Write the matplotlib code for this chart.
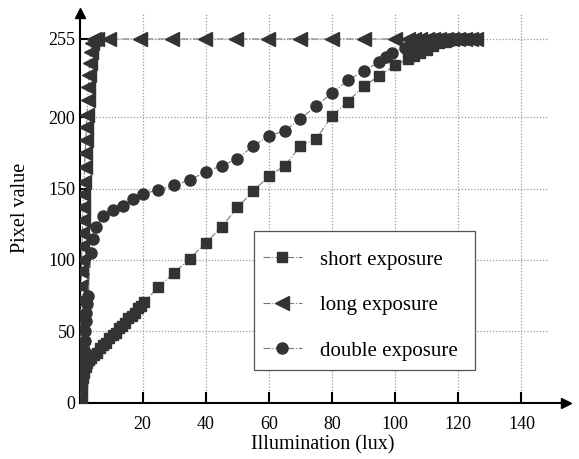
import matplotlib
matplotlib.use("Agg")
import matplotlib.pyplot as plt
from matplotlib.patches import Rectangle

plt.rcParams['font.family'] = ['Liberation Serif', 'DejaVu Serif']

# ---------------- data ----------------
short_x = [0.2, 0.5, 0.8, 1.1, 1.5, 2.0, 2.5, 3.0, 3.6, 4.5, 5.5, 6.5, 7.5, 8.5, 9.5,
           10.5, 11.5, 12.5, 13.5, 14.5, 15.5, 16.5, 17.5, 18.5, 19.5, 20.5,
           25, 30, 35, 40, 45, 50, 55, 60, 65, 70, 75, 80, 85, 90, 95, 100,
           104, 106, 108, 110, 112, 114, 116, 118, 120, 122, 124, 125.5]
short_y = [3, 8, 13, 17, 21, 25, 28, 30, 31, 33, 35, 38, 40, 42, 45,
           47, 49, 52, 54, 56, 59, 61, 63, 66, 68, 70.5,
           81, 91, 101, 112, 123, 137, 148, 159, 166, 180, 185, 201, 211, 222, 229, 236.5,
           241, 243, 245, 247, 250, 252, 253, 254, 255, 255, 255, 255]

long_x = [0.05, 0.1, 0.15, 0.2, 0.3, 0.35, 0.4, 0.5, 0.55, 0.6, 0.7, 0.8, 0.9, 1.0,
          1.1, 1.2, 1.4, 1.6, 1.8, 2.0, 2.2, 2.4, 2.6, 2.8, 3.0, 3.2, 3.5, 3.9, 4.5, 5.5,
          9.3, 19.3, 29.3, 39.6, 49.7, 59.8, 69.9, 80, 90.2, 100,
          104, 106, 108, 110, 112, 114, 116, 118, 120, 122, 124, 125.5]
long_y = [3, 12, 22, 32, 42, 52, 62, 72, 82, 92, 100, 110, 119, 128,
          137, 146, 155, 165, 175, 184, 193, 202, 212, 221, 230, 238, 246, 252, 255, 255,
          255, 255, 255, 255, 255, 255, 255, 255, 255, 255,
          255, 255, 255, 255, 255, 255, 255, 255, 255, 255, 255, 255]

double_x = [0.8, 1.0, 1.2, 1.4, 1.6, 1.8, 2.0, 2.2, 2.4, 2.6,
            3.7, 4.2, 5.3, 7.4, 10.6, 13.7, 16.9, 20.1,
            25, 30, 35, 40, 45, 50, 55, 60, 65, 70, 75, 80, 85, 90, 95, 97, 99,
            103, 105, 107, 109, 111, 113, 115, 117, 119, 121, 123, 125.5]
double_y = [20, 25, 31, 37, 43, 50, 57, 63, 69, 75,
            105, 115, 123, 131, 135, 138, 143, 146.5,
            149, 152.5, 156, 162, 166, 171, 180, 187, 190.5, 199, 208, 217, 226, 232.5, 239, 242.5, 245,
            249, 251, 252, 253, 254, 255, 255, 255, 255, 255, 255, 255]

x_ticks = [20, 40, 60, 80, 100, 120, 140]
y_ticks = [0, 50, 100, 150, 200, 255]
labels = ["short exposure", "long exposure", "double exposure"]

# ---------------- figure ----------------
W, H = 579, 459
fig = plt.figure(figsize=(W / 100, H / 100), dpi=100)
x0, x1 = 79.5, 566.0
y0, y1 = 402.5, 13.0
ax = fig.add_axes([x0 / W, (H - y0) / H, (x1 - x0) / W, (y0 - y1) / H])
ax.set_xlim(0, 154.1)
ax.set_ylim(0, 273.2)

# grid
for gx in x_ticks:
    ax.axvline(gx, color='#9a9a9a', lw=0.9, ls=(0, (1, 1.5)), zorder=0)
for gy in y_ticks[1:]:
    ax.axhline(gy, xmin=0, xmax=148 / 154.1, color='#9a9a9a', lw=0.9, ls=(0, (1, 1.5)), zorder=0)

mc = '#333333'
lc = '#7a7a7a'
common = dict(color=lc, lw=0.8, ls='-.', markerfacecolor=mc, markeredgecolor=mc, zorder=3)
ax.plot(short_x, short_y, marker='s', ms=7.5, label=labels[0], **common)
ax.plot(long_x, long_y, marker='<', ms=9.5, label=labels[1], **common)
ax.plot(double_x, double_y, marker='o', ms=8, label=labels[2], **common)

# spines & arrows
for s in ['top', 'right']:
    ax.spines[s].set_visible(False)
for s in ['left', 'bottom']:
    ax.spines[s].set_linewidth(1.5)
    ax.spines[s].set_color('black')
ax.plot(1, 0, marker='>', ms=7, color='black', transform=ax.transAxes, clip_on=False, zorder=5)
ax.plot(0, 1, marker='^', ms=7, color='black', transform=ax.transAxes, clip_on=False, zorder=5)

ax.set_xticks(x_ticks)
ax.set_yticks(y_ticks)
ax.tick_params(axis='both', direction='in', length=8, width=1.5, labelsize=13, colors='black')
ax.tick_params(axis='x', pad=10)
ax.tick_params(axis='y', pad=3)

ax.set_xlabel("Illumination (lux)", fontsize=14.5, labelpad=1)
ax.set_ylabel("Pixel value", fontsize=14.5, labelpad=13)

# legend frame drawn as a box, entries placed inside it
box = Rectangle((254 / W, (H - 370) / H), (475 - 254) / W, (370 - 231) / H,
                transform=fig.transFigure, facecolor='white', edgecolor='#555555',
                lw=0.9, zorder=4)
ax.add_patch(box)
box.set_clip_on(False)
leg = ax.legend(loc='upper left', bbox_to_anchor=((254 - x0) / (x1 - x0), (y0 - 241) / (y0 - y1)),
                fontsize=15, frameon=False, labelspacing=1.25, handlelength=1.87,
                handletextpad=0.87, borderpad=0.43, borderaxespad=0)
leg.set_zorder(6)

fig.savefig("out.png", dpi=100)
